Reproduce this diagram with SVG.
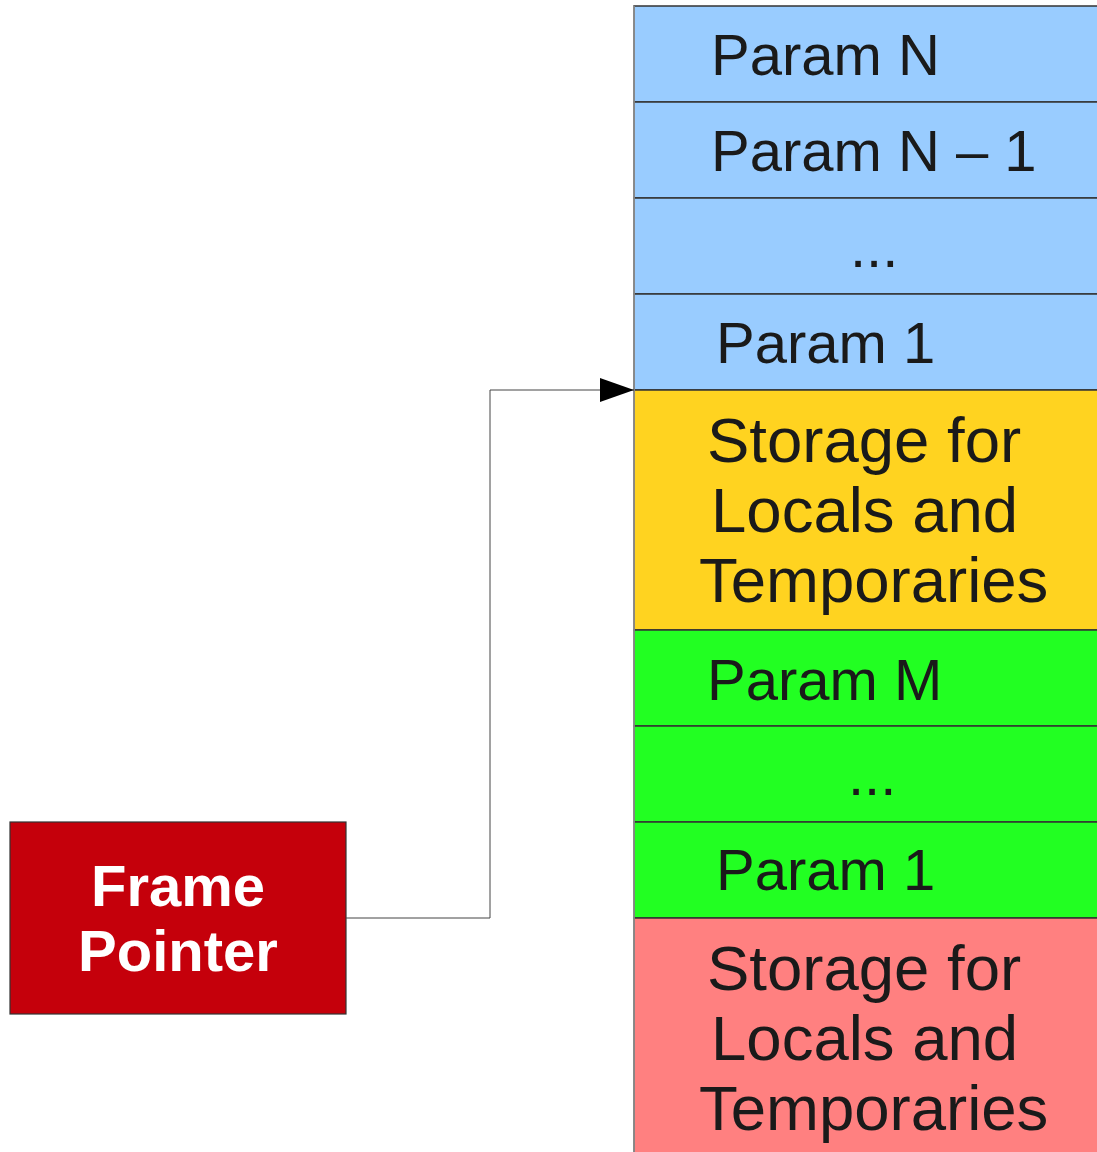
<svg xmlns="http://www.w3.org/2000/svg" width="1097" height="1152" viewBox="0 0 1097 1152">
<style>
.cell{stroke:#333;stroke-width:1.5}
.t{font-family:"Liberation Sans",Arial,sans-serif;fill:#1a1a1a;font-size:58px}
.s{font-family:"Liberation Sans",Arial,sans-serif;fill:#1a1a1a;font-size:63.5px}
.fp{font-family:"Liberation Sans",Arial,sans-serif;fill:#fff;font-size:58px;font-weight:bold;text-anchor:middle}
.conn{fill:none;stroke:#444;stroke-width:1}
</style>
<defs>
<marker id="arr" markerWidth="34" markerHeight="24" refX="34" refY="12" orient="auto" markerUnits="userSpaceOnUse">
<path d="M0,0 L34,12 L0,24 Z" fill="#000"/>
</marker>
</defs>
<rect width="1097" height="1152" fill="#fff"/>
<g id="param-n"><rect class="cell" x="634" y="6" width="470" height="96" fill="#99ccff"/><text class="t" x="711" y="75">Param N</text></g>
<g id="param-n-1"><rect class="cell" x="634" y="102" width="470" height="96" fill="#99ccff"/><text class="t" x="711" y="171">Param N – 1</text></g>
<g id="param-dots-1"><rect class="cell" x="634" y="198" width="470" height="96" fill="#99ccff"/><text class="t" x="850" y="267">...</text></g>
<g id="param-1-a"><rect class="cell" x="634" y="294" width="470" height="96" fill="#99ccff"/><text class="t" x="716" y="363">Param 1</text></g>
<g id="storage-a"><rect class="cell" x="634" y="390" width="470" height="240" fill="#ffd320"/><text class="s" x="707" y="462">Storage for</text><text class="s" x="711" y="532">Locals and</text><text class="s" x="699" y="602">Temporaries</text></g>
<g id="param-m"><rect class="cell" x="634" y="630" width="470" height="96" fill="#22ff22"/><text class="t" x="707" y="700">Param M</text></g>
<g id="param-dots-2"><rect class="cell" x="634" y="726" width="470" height="96" fill="#22ff22"/><text class="t" x="848" y="795">...</text></g>
<g id="param-1-b"><rect class="cell" x="634" y="822" width="470" height="96" fill="#22ff22"/><text class="t" x="716" y="890">Param 1</text></g>
<g id="storage-b"><rect class="cell" x="634" y="918" width="470" height="250" fill="#ff8080"/><text class="s" x="707" y="990">Storage for</text><text class="s" x="711" y="1060">Locals and</text><text class="s" x="699" y="1130">Temporaries</text></g>
<line x1="634" y1="6" x2="634" y2="1152" stroke="#999" stroke-width="1.5"/>
<g id="frame-pointer"><rect x="10" y="822" width="336" height="192" fill="#c5000b" stroke="#333" stroke-width="1.2"/><text class="fp" x="178" y="906">Frame</text><text class="fp" x="178" y="971">Pointer</text></g>
<g id="connectors"><path class="conn" d="M346,918 H490 V390 H634" marker-end="url(#arr)"/></g>
</svg>
